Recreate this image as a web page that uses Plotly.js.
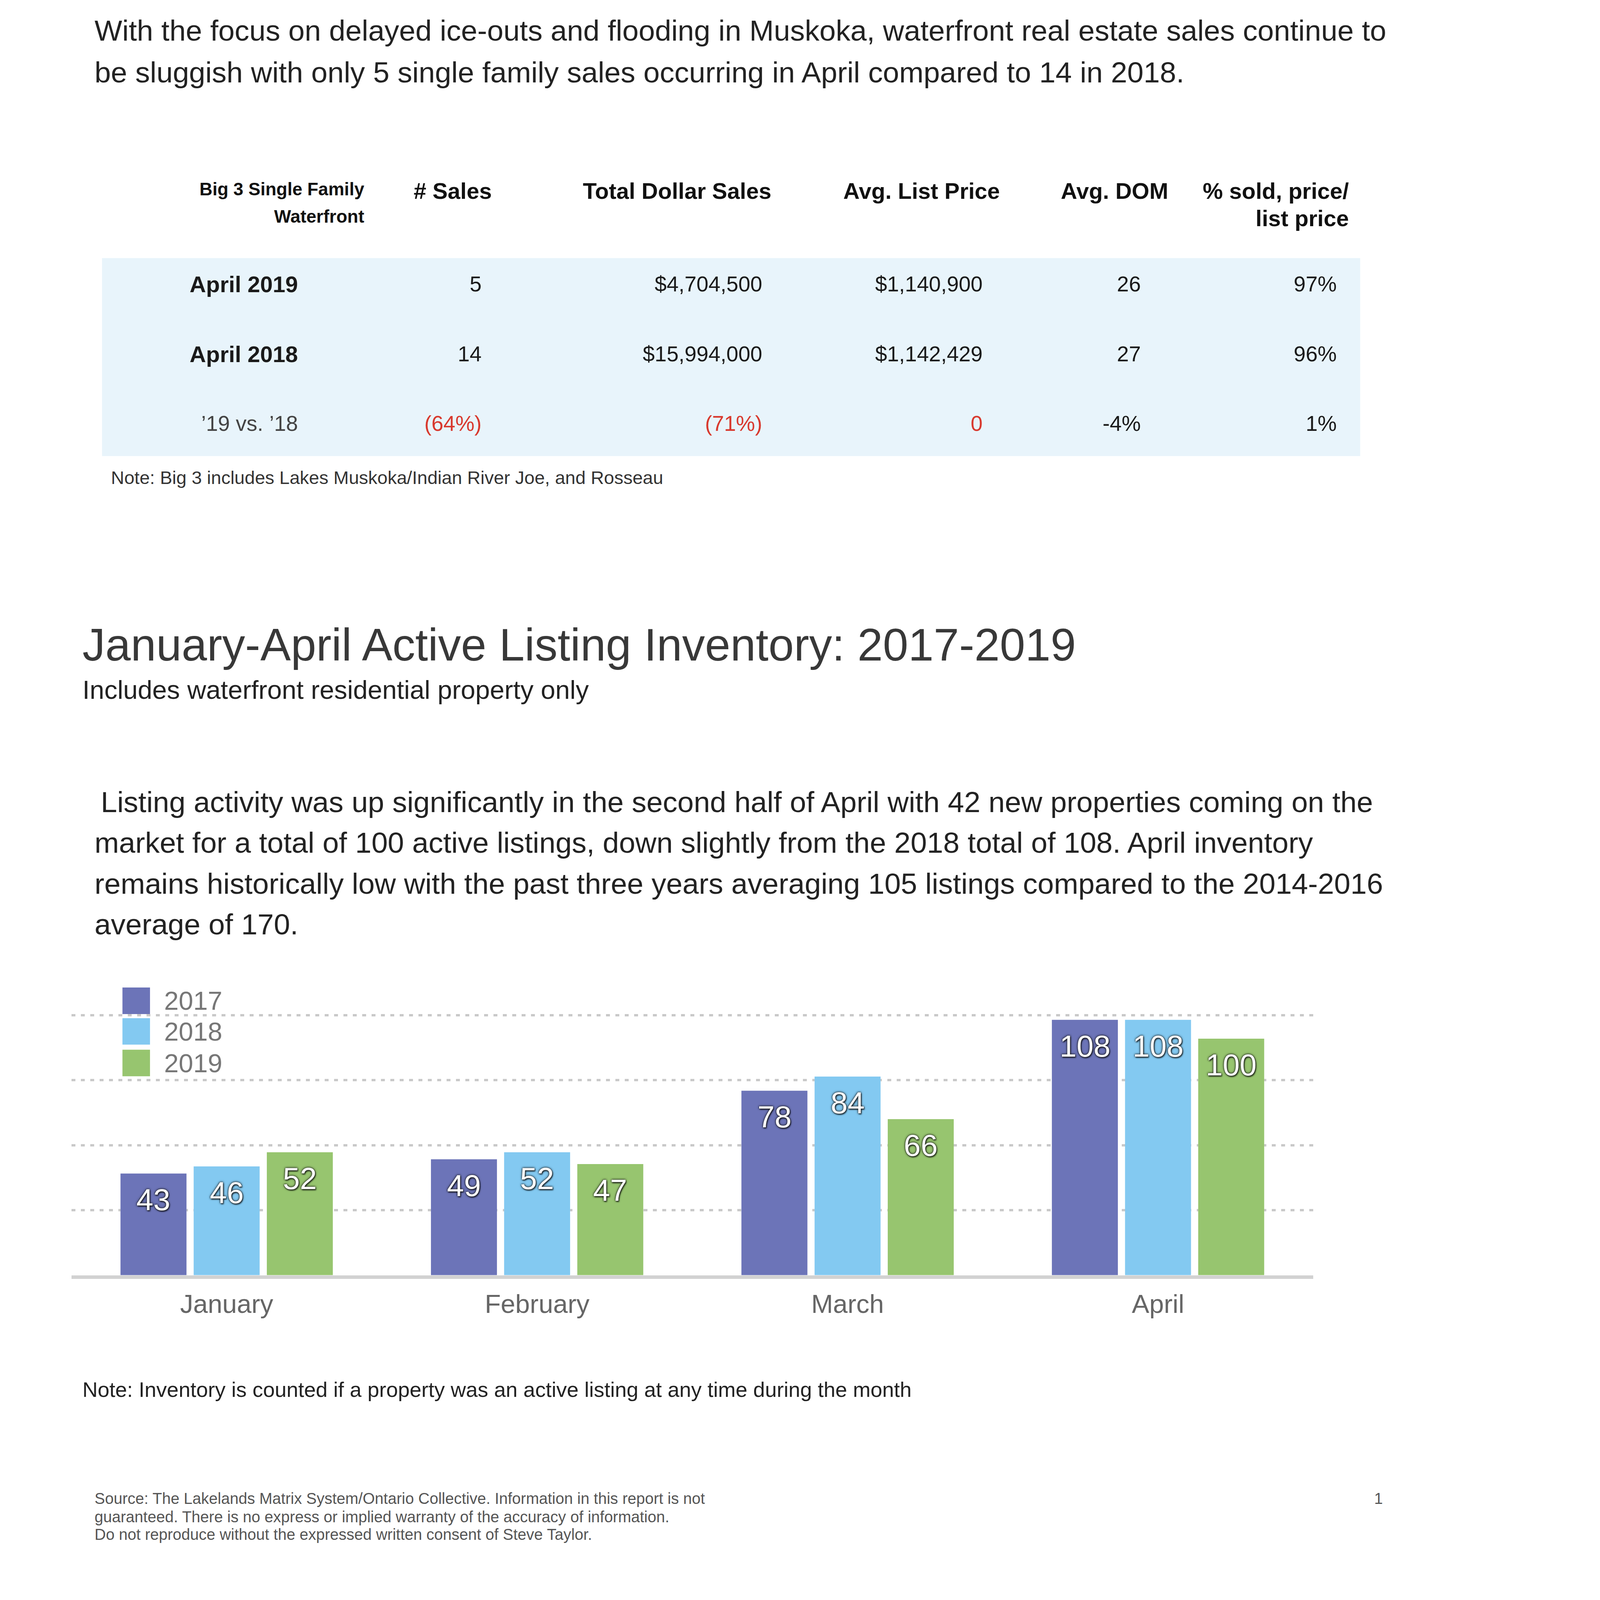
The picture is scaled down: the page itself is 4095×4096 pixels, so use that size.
<!DOCTYPE html>
<html><head><meta charset="utf-8">
<script src="https://cdn.plot.ly/plotly-3.0.1.min.js"></script>
<style>html,body{margin:0;padding:0;background:#fff;overflow:hidden}#page{width:4095px;height:4096px}</style>
</head><body><div id="page"></div>
<script>
// ---------------- data ----------------
const months = ['January', 'February', 'March', 'April'];
const years = ['2017', '2018', '2019'];
const inv2017 = [43, 49, 78, 108];
const inv2018 = [46, 52, 84, 108];
const inv2019 = [52, 47, 66, 100];

// table header: one array per column, one entry per header line
const tableHeaders = [
  ['Big 3 Single Family', 'Waterfront'],
  ['# Sales', ''],
  ['Total Dollar Sales', ''],
  ['Avg. List Price', ''],
  ['Avg. DOM', ''],
  ['% sold, price/', 'list price']
];
const rowLabels = ['April 2019', 'April 2018', '\u201919 vs. \u201918'];
const colSales = ['5', '14', '(64%)'];
const colDollar = ['$4,704,500', '$15,994,000', '(71%)'];
const colListPrice = ['$1,140,900', '$1,142,429', '0'];
const colDOM = ['26', '27', '-4%'];
const colSoldRatio = ['97%', '96%', '1%'];

const introLines = [
  'With the focus on delayed ice-outs and flooding in Muskoka, waterfront real estate sales continue to',
  'be sluggish with only 5 single family sales occurring in April compared to 14 in 2018.'
];
const tableNote = 'Note: Big 3 includes Lakes Muskoka/Indian River Joe, and Rosseau';
const chartTitle = 'January-April Active Listing Inventory: 2017-2019';
const chartSubtitle = 'Includes waterfront residential property only';
const paraLines = [
  'Listing activity was up significantly in the second half of April with 42 new properties coming on the',
  'market for a total of 100 active listings, down slightly from the 2018 total of 108. April inventory',
  'remains historically low with the past three years averaging 105 listings compared to the 2014-2016',
  'average of 170.'
];
const chartNote = 'Note: Inventory is counted if a property was an active listing at any time during the month';
const footerLines = [
  'Source: The Lakelands Matrix System/Ontario Collective. Information in this report is not',
  'guaranteed. There is no express or implied warranty of the accuracy of information.',
  'Do not reproduce without the expressed written consent of Steve Taylor.'
];
const pageNumber = '1';

// ---------------- layout helpers ----------------
const W = 4095, H = 4096;
const S = W / 1568;                 // reference-preview px -> window px
const FONT = 'Liberation Sans, Arial, Helvetica, sans-serif';
const px = v => v * S / W;          // preview x -> paper
const py = v => 1 - v * S / H;      // preview y -> paper
const wx = v => v / W;              // window x -> paper
const wy = v => 1 - v / H;          // window y -> paper

const series = [inv2017, inv2018, inv2019];
const colors = ['#6c74b8', '#83c9f1', '#97c56f'];

const annotations = [];
const shapes = [];
function txt(text, xs, ys, size, color, extra) {
  annotations.push(Object.assign({
    text: text, xref: 'paper', yref: 'paper', x: px(xs), y: py(ys),
    xanchor: 'left', yanchor: 'middle', showarrow: false,
    font: {family: FONT, size: size, color: color}
  }, extra || {}));
}

introLines.forEach((t, i) => txt(t, 92, [30, 71][i], 75, '#222'));
txt(tableNote, 108, 468, 47, '#333');
txt(chartTitle, 80, 632, 117, '#383838');
txt(chartSubtitle, 80, 676, 67, '#222');
paraLines.forEach((t, i) => txt(t, i === 0 ? 98 : 92, [786, 826, 866, 906][i], 75, '#222'));
txt(chartNote, 80, 1362, 54, '#222');
footerLines.forEach((t, i) => txt(t, 92, [1469, 1487, 1504][i], 40, '#555'));
txt(pageNumber, 1346, 1469, 40, '#555');

// table background band
shapes.push({type: 'rect', xref: 'paper', yref: 'paper', layer: 'below',
  x0: px(100), x1: px(1333), y0: py(447), y1: py(253),
  fillcolor: '#e8f4fb', line: {width: 0}});

// legend (manual swatches, sized like the reference)
const legendY = [981, 1011, 1042];
years.forEach((yr, k) => {
  shapes.push({type: 'rect', xref: 'paper', yref: 'paper', layer: 'above',
    x0: px(120), x1: px(147), y0: py(legendY[k] + 13), y1: py(legendY[k] - 13),
    fillcolor: colors[k], line: {width: 0}});
  txt(yr, 160, legendY[k], 67, '#777');
});

// ---------------- tables ----------------
function edgesToWidths(edges) {
  const e = edges.map((v, i) => v * S + (i > 0 ? 8 : 0));
  const w = [];
  for (let i = 1; i < e.length; i++) w.push(e[i] - e[i - 1]);
  return {x0: e[0], x1: e[e.length - 1], w: w};
}
const hdrCols = edgesToWidths([100, 357, 482, 756, 980, 1145, 1322]);
const bodyCols = edgesToWidths([100, 292, 472, 747, 963, 1118, 1310]);
const clear = 'rgba(0,0,0,0)';

const hdrTop = 187 * S - 31;
const hdrRowH = 27 * S;
const headerTable = {
  type: 'table',
  domain: {x: [wx(hdrCols.x0), wx(hdrCols.x1)], y: [wy(hdrTop + 2 * hdrRowH + 40), wy(hdrTop)]},
  columnwidth: hdrCols.w,
  header: {
    values: tableHeaders, align: 'right', height: hdrRowH,
    fill: {color: clear}, line: {width: 0, color: clear},
    font: {family: FONT, size: [46, 58, 58, 58, 58, 58], color: '#111', weight: 'bold'}
  },
  cells: {values: [], fill: {color: clear}, line: {width: 0, color: clear}},
  hoverinfo: 'skip'
};

const rowH = 68.5 * S;
const bodyTop = 278 * S - 29.6 - 16;
const red = '#d8392e', ink = '#1a1a1a';
const bodyTable = {
  type: 'table',
  domain: {x: [wx(bodyCols.x0), wx(bodyCols.x1)], y: [wy(bodyTop + 3 * rowH + 30), wy(bodyTop)]},
  columnwidth: bodyCols.w,
  header: {values: [], height: 0, fill: {color: clear}, line: {width: 0, color: clear}},
  cells: {
    values: [rowLabels, colSales, colDollar, colListPrice, colDOM, colSoldRatio],
    align: 'right', height: rowH,
    fill: {color: clear}, line: {width: 0, color: clear},
    font: {
      family: FONT,
      size: [[58, 58, 55], 55, 55, 55, 55, 55],
      weight: [['bold', 'bold', 'normal'], 'normal', 'normal', 'normal', 'normal', 'normal'],
      color: [[ink, ink, '#444'], [ink, ink, red], [ink, ink, red], [ink, ink, red], [ink, ink, ink], [ink, ink, ink]]
    }
  },
  hoverinfo: 'skip'
};

// ---------------- bar chart ----------------
const yMax = 112;                                   // headroom so the 110 grid line is drawn
const unitPreview = (1250 - 995) / 110;             // preview px per listing
const xDom = [px(70), px(1287)];
const yDom = [py(1250), py(1250 - yMax * unitPreview)];
const bargap = 0.293, bargroupgap = 0.098;
const plotWpx = (xDom[1] - xDom[0]) * W;
const slotPx = plotWpx / months.length * (1 - bargap) / years.length;

const bars = years.map((yr, k) => ({
  type: 'bar', name: yr, x: months, y: series[k],
  marker: {color: colors[k], line: {width: 0}},
  hoverinfo: 'skip', showlegend: false
}));

// value labels inside the top of each bar, placed through the axes
years.forEach((yr, k) => {
  months.forEach((m, j) => {
    annotations.push({
      xref: 'x', yref: 'y', x: m, y: series[k][j], text: String(series[k][j]),
      xshift: (k - 1) * slotPx, yshift: -21, xanchor: 'center', yanchor: 'top',
      showarrow: false,
      font: {family: FONT, size: 78, color: '#ffffff',
             shadow: '0px 0px 4px rgba(20,20,20,0.9), 0px 0px 6px rgba(20,20,20,0.7), 2px 3px 3px rgba(0,0,0,0.6)'}
    });
  });
});

const layout = {
  width: W, height: H, margin: {l: 0, r: 0, t: 0, b: 0, pad: 0},
  paper_bgcolor: '#ffffff', plot_bgcolor: '#ffffff',
  font: {family: FONT, color: '#222'},
  showlegend: false,
  barmode: 'group', bargap: bargap, bargroupgap: bargroupgap,
  xaxis: {
    domain: xDom, type: 'category', categoryorder: 'array', categoryarray: months,
    showline: true, linecolor: '#d2d2d2', linewidth: 9, ticks: '',
    showgrid: false, zeroline: false, ticklabelstandoff: 7,
    tickfont: {family: FONT, size: 67, color: '#666'}, fixedrange: true
  },
  yaxis: {
    domain: yDom, range: [0, yMax], tickvals: [27.5, 55, 82.5, 110],
    showticklabels: false, ticks: '', showline: false, zeroline: false,
    showgrid: true, gridcolor: '#c9c9c9', gridwidth: 6, griddash: '10px,14px',
    fixedrange: true
  },
  annotations: annotations,
  shapes: shapes
};

Plotly.newPlot('page', bars.concat([headerTable, bodyTable]), layout, {staticPlot: true, displayModeBar: false});
</script>
</body></html>
